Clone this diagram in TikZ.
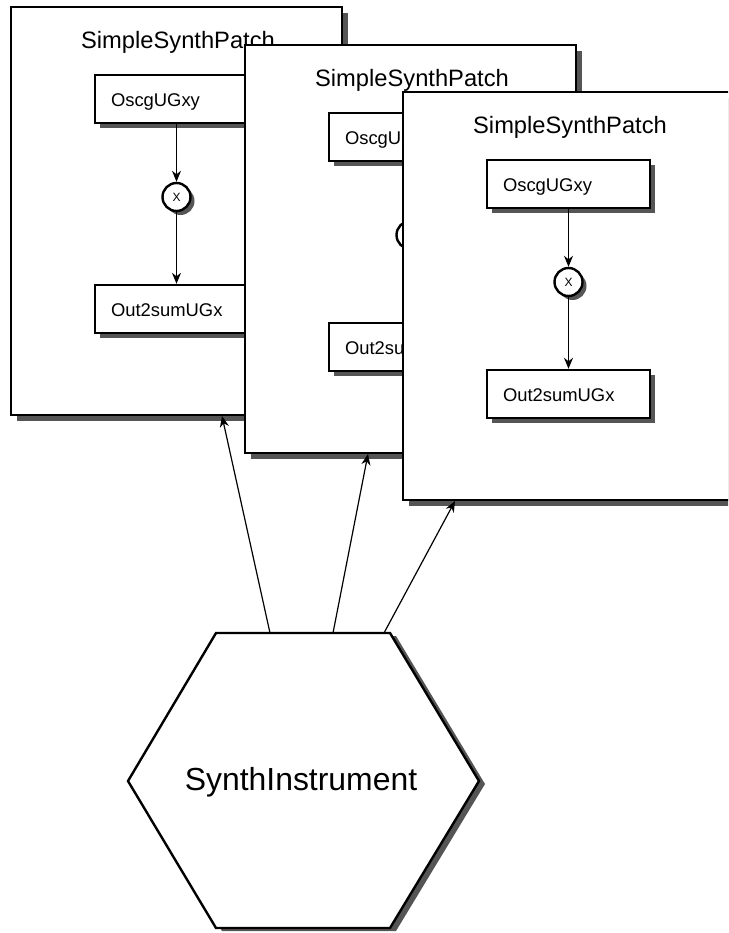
\documentclass[tikz,border=0pt]{standalone}
\usepackage{fontspec}
\setmainfont{Liberation Sans}
\usetikzlibrary{arrows.meta,shadows}
\definecolor{shadowgray}{RGB}{85,85,85}
\tikzset{
  frame/.style={draw, line width=2.4pt, fill=white, anchor=north west,
    minimum width=331pt, minimum height=408pt, inner sep=0pt,
    general shadow={fill=shadowgray, shadow xshift=5.5pt, shadow yshift=-5.5pt}},
  ugen/.style={draw, line width=2.4pt, fill=white, minimum height=48pt,
    text width=131pt, inner xsep=16pt, inner ysep=0pt, align=left,
    text height=17.5pt, text depth=2pt,
    font=\fontsize{18.4}{20}\selectfont,
    general shadow={fill=shadowgray, shadow xshift=5pt, shadow yshift=-5pt}},
  mult/.style={circle, draw, line width=2.4pt, fill=white, minimum size=28pt,
    inner sep=0pt, font=\fontsize{12}{12}\selectfont,
    general shadow={fill=shadowgray, shadow xshift=4pt, shadow yshift=-4pt}},
  ptitle/.style={anchor=base, font=\fontsize{23.7}{26}\selectfont},
  flow/.style={line width=1.2pt, -{Stealth[length=11pt,width=9pt,inset=3.5pt]}},
  hexline/.style={line width=2.4pt, fill=white},
}
\newcommand\synthpatch[4]{%
  \node[frame, minimum width=#4] (#1) at (#2,#3) {};
  \node[ptitle] (#1-t) at (#2+168,#3+42.5) {SimpleSynthPatch};
  \node[ugen] (#1-osc) at (#2+166.5,#3+93) {OscgUGxy};
  \node[mult] (#1-x) at (#2+166.5,#3+191) {X};
  \node[ugen] (#1-out) at (#2+166.5,#3+303) {Out2sumUGx};
  \draw[flow] (#1-osc) -- (#1-x);
  \draw[flow] (#1-x) -- (#1-out);
}
\begin{document}
\begin{tikzpicture}[x=1pt, y=-1pt]
  \useasboundingbox (0,0) rectangle (728,933);
  \clip (0,0) rectangle (728,933);
  \synthpatch{p1}{10}{6}{331pt}
  \synthpatch{p2}{244}{44}{331pt}
  \synthpatch{p3}{402}{91}{380pt}
  % hexagon
  \fill[shadowgray] (222,636) -- (396,636) -- (485,784) -- (396,931) -- (222,931) -- (134,784) -- cycle;
  \draw[hexline] (216,633) -- (390,633) -- (479,781) -- (390,928) -- (216,928) -- (128,781) -- cycle;
  \node[anchor=base, font=\fontsize{31.9}{34}\selectfont] (hex) at (301,790) {SynthInstrument};
  % connectors
  \coordinate (h1) at (270,633);
  \coordinate (h2) at (333,633);
  \coordinate (h3) at (384,633);
  \coordinate (e1) at (222,416);
  \coordinate (e2) at (368,454);
  \coordinate (e3) at (455,501);
  \draw[flow] (h1) -- (e1);
  \draw[flow] (h2) -- (e2);
  \draw[flow] (h3) -- (e3);
\end{tikzpicture}
\end{document}
